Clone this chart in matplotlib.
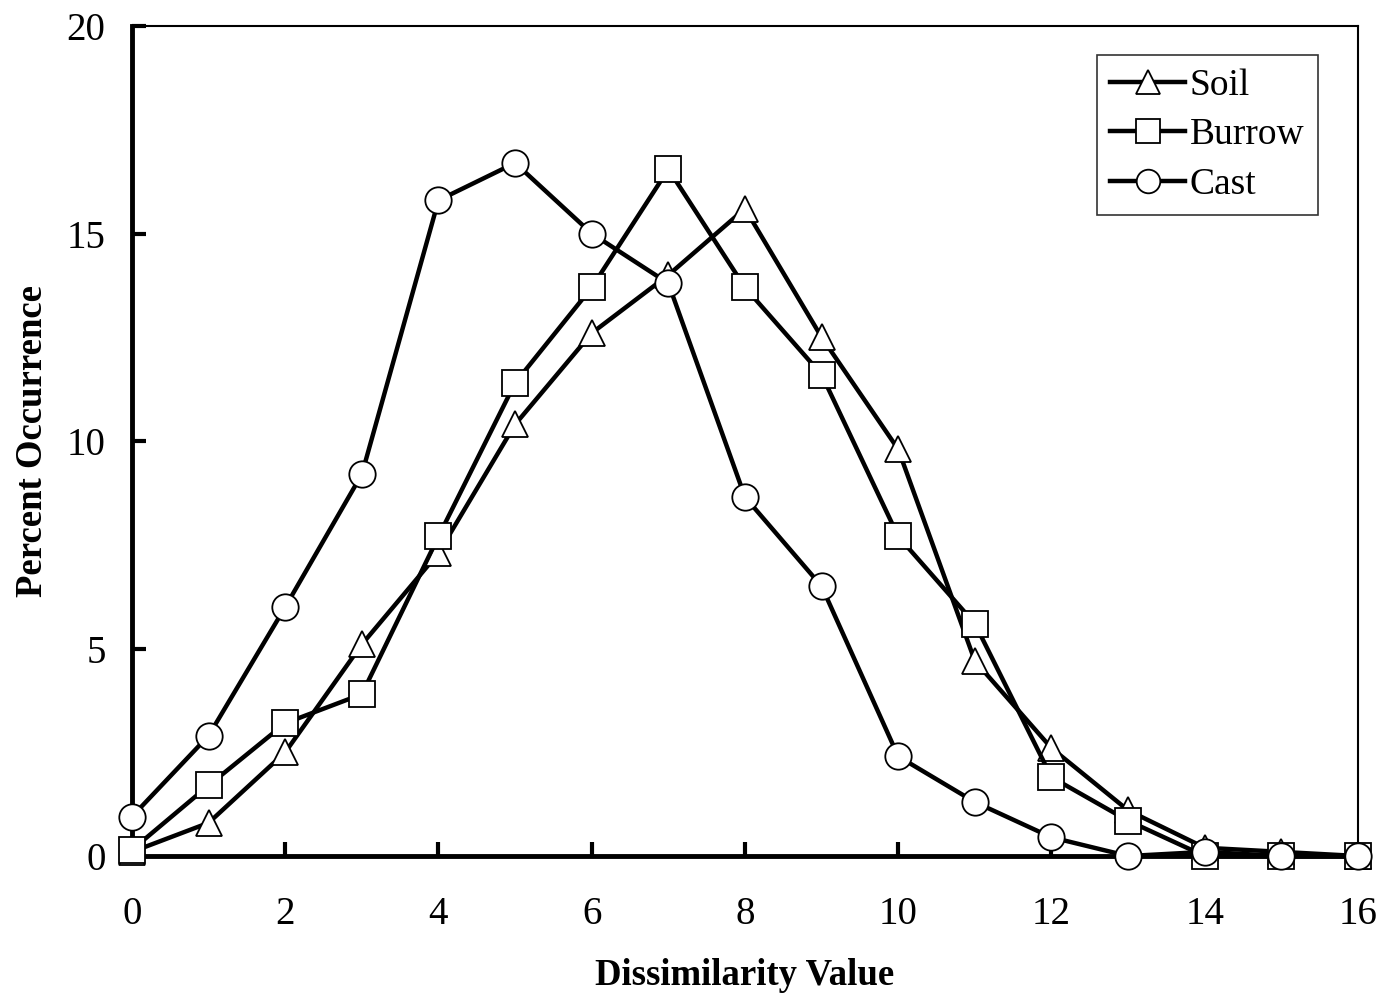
import matplotlib
matplotlib.use("Agg")
from matplotlib import pyplot as plt

plt.rcParams['font.family'] = ['Liberation Serif', 'DejaVu Serif']

x = list(range(17))
soil = [0.1, 0.8, 2.5, 5.1, 7.3, 10.4, 12.6, 14.0, 15.6, 12.5, 9.8, 4.7, 2.6, 1.1, 0.2, 0.1, 0.0]
burrow = [0.15, 1.7, 3.2, 3.9, 7.7, 11.4, 13.7, 16.55, 13.7, 11.6, 7.7, 5.6, 1.9, 0.85, 0.0, 0.0, 0.0]
cast = [0.95, 2.9, 6.0, 9.2, 15.8, 16.7, 15.0, 13.8, 8.65, 6.5, 2.4, 1.3, 0.45, 0.0, 0.1, 0.0, 0.0]

fig = plt.figure(figsize=(13.85, 9.97), dpi=100)
ax = fig.add_axes([0.0953, 0.1414, 0.8852, 0.8325])

style = dict(color="black", linewidth=3.2, markersize=19, markerfacecolor="white",
             markeredgecolor="black", markeredgewidth=1.3, clip_on=False)
ax.plot(x, soil, marker="^", label="Soil", zorder=3, **style)
ax.plot(x, burrow, marker="s", label="Burrow", zorder=4, **style)
ax.plot(x, cast, marker="o", label="Cast", zorder=5, **style)

ax.set_xlim(0, 16)
ax.set_ylim(0, 20)
ax.set_xticks(range(0, 17, 2))
ax.set_yticks(range(0, 21, 5))
ax.tick_params(direction="in", length=10, width=3, labelsize=28)
ax.tick_params(axis="x", pad=29)
ax.tick_params(axis="y", pad=19)
for s in ["left", "bottom"]:
    ax.spines[s].set_linewidth(3.5)
for s in ["top", "right"]:
    ax.spines[s].set_linewidth(1.5)

ax.set_xlabel("Dissimilarity Value", fontsize=26.5, fontweight="bold", labelpad=18)
ax.set_ylabel("Percent Occurrence", fontsize=26.5, fontweight="bold", labelpad=12)

leg = ax.legend(loc="upper right", bbox_to_anchor=(0.967, 0.965), fontsize=27, frameon=True,
                fancybox=False, edgecolor="black", handlelength=2.0, handletextpad=0.12,
                borderpad=0.35, borderaxespad=0, labelspacing=0.4)
leg.get_frame().set_linewidth(1.2)
for h in leg.legend_handles:
    h.set_markersize(17)

fig.savefig("out.png")
